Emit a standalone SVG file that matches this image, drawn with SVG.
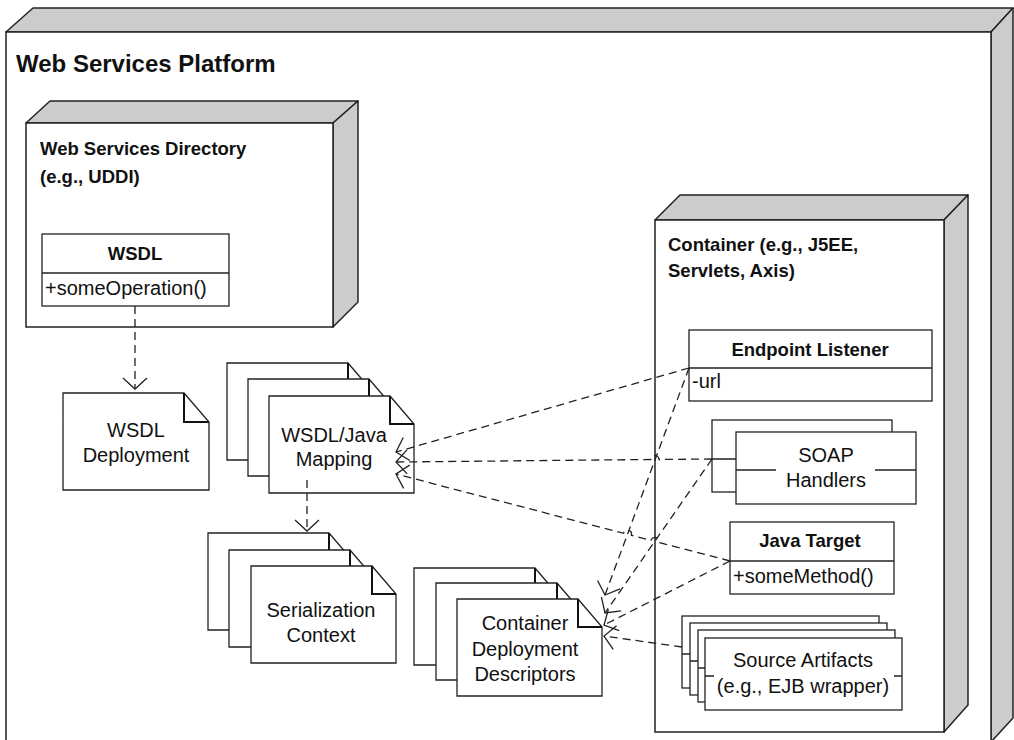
<svg xmlns="http://www.w3.org/2000/svg" width="1014" height="740" viewBox="0 0 1014 740">
<style>
.face{fill:#cccccc;stroke:#222;stroke-width:1.5;stroke-linejoin:round}
.front{fill:#fff;stroke:#222;stroke-width:1.5}
.box{fill:#fff;stroke:#222;stroke-width:1.3}
.ln{fill:none;stroke:#222;stroke-width:1.3}
.dash{fill:none;stroke:#222;stroke-width:1.3;stroke-dasharray:8 5}
.fold{fill:none;stroke:#111;stroke-width:2}
text{font-family:"Liberation Sans",Arial,sans-serif;fill:#111}
.h{font-weight:bold;font-size:18.5px}
.t{font-size:20px}
.title{font-weight:bold;font-size:24px}
.c{text-anchor:middle}
</style>
<defs>
<g id="note">
<path class="box" d="M0,0 H121 L145,28 V97 H0 Z"/>
<path class="fold" d="M121,0 V28 H145"/>
</g>
<g id="art">
<rect class="box" x="0" y="0" width="197" height="72"/>
<path class="ln" d="M0,38 H9 M189,38 H197"/>
</g>
<marker id="arr" viewBox="-1 -13 14 26" markerWidth="14" markerHeight="26" refX="11" refY="0" markerUnits="userSpaceOnUse" orient="auto">
<path d="M0,-12 L11,0 L0,12" fill="none" stroke="#222" stroke-width="1.3"/>
</marker>
</defs>

<g id="platform">
<polygon class="face" points="6,32 33,8 1013,8 991,32"/>
<polygon class="face" points="991,32 1013,8 1013,718 991,742"/>
<rect class="front" x="6" y="32" width="985" height="712"/>
<text class="title" x="16" y="72">Web Services Platform</text>
</g>

<g id="directory">
<polygon class="face" points="26,123 50,101 358,101 333,123"/>
<polygon class="face" points="333,123 358,101 358,302 333,327"/>
<rect class="front" x="26" y="123" width="307" height="204"/>
<text class="h" x="40" y="155">Web Services Directory</text>
<text class="h" x="40" y="183">(e.g., UDDI)</text>
</g>

<g id="wsdl">
<rect class="box" x="42" y="234" width="187" height="72"/>
<path class="ln" d="M42,273 H229"/>
<text class="h c" x="135" y="260">WSDL</text>
<text class="t" x="45" y="295">+someOperation()</text>
</g>

<g id="container">
<polygon class="face" points="655,220 680,195 968,195 944,220"/>
<polygon class="face" points="944,220 968,195 968,705 944,732"/>
<rect class="front" x="655" y="220" width="289" height="512"/>
<text class="h" x="668" y="251">Container (e.g., J5EE,</text>
<text class="h" x="668" y="277">Servlets, Axis)</text>
</g>

<g id="endpoint-listener">
<rect class="box" x="689" y="330" width="243" height="71"/>
<path class="ln" d="M689,368 H932"/>
<text class="h c" x="810" y="356">Endpoint Listener</text>
<text class="t" x="692" y="388">-url</text>
</g>

<g id="soap-handlers">
<rect class="box" x="712" y="420" width="180" height="72"/>
<rect class="box" x="736" y="432" width="180" height="72"/>
<path class="ln" d="M712,459 H736 M736,470 H776 M875,470 H916"/>
<text class="t c" x="826" y="462">SOAP</text>
<text class="t c" x="826" y="487">Handlers</text>
</g>

<g id="java-target">
<rect class="box" x="730" y="522" width="164" height="72"/>
<path class="ln" d="M730,561 H894"/>
<text class="h c" x="810" y="547">Java Target</text>
<text class="t" x="733" y="583">+someMethod()</text>
</g>

<g id="source-artifacts">
<use href="#art" transform="translate(682,616)"/>
<use href="#art" transform="translate(690,623)"/>
<use href="#art" transform="translate(698,630)"/>
<use href="#art" transform="translate(705,638)"/>
<text class="t c" x="803" y="667">Source Artifacts</text>
<text class="t c" x="803" y="693">(e.g., EJB wrapper)</text>
</g>

<g id="wsdl-deployment">
<path class="box" d="M63,393 H184 L209,422 V490 H63 Z"/>
<path class="fold" d="M184,393 V422 H209"/>
<text class="t c" x="136" y="437">WSDL</text>
<text class="t c" x="136" y="462">Deployment</text>
</g>

<g id="mapping">
<use href="#note" transform="translate(227,363)"/>
<use href="#note" transform="translate(248,379)"/>
<use href="#note" transform="translate(269,396)"/>
<text class="t c" x="334" y="442">WSDL/Java</text>
<text class="t c" x="334" y="466">Mapping</text>
</g>

<g id="serialization">
<use href="#note" transform="translate(208,533)"/>
<use href="#note" transform="translate(229,550)"/>
<use href="#note" transform="translate(251,566)"/>
<text class="t c" x="321" y="617">Serialization</text>
<text class="t c" x="321" y="642">Context</text>
</g>

<g id="descriptors">
<use href="#note" transform="translate(414,568)"/>
<use href="#note" transform="translate(436,583)"/>
<use href="#note" transform="translate(457,599)"/>
<text class="t c" x="525" y="630">Container</text>
<text class="t c" x="525" y="656">Deployment</text>
<text class="t c" x="525" y="681">Descriptors</text>
</g>

<g id="connectors">
<path class="dash" marker-end="url(#arr)" d="M135,306 V389"/>
<path class="dash" marker-end="url(#arr)" d="M307,480 V531"/>
<path class="dash" marker-end="url(#arr)" d="M689,368 L396,452"/>
<path class="dash" marker-end="url(#arr)" d="M712,459 L659,459.5 A4,4 0 0 0 651,459.5 L396,462"/>
<path class="dash" marker-end="url(#arr)" d="M730,561 L658.7,542.4 A4,4 0 0 0 650.9,540.4 L631.4,535.3 A4,4 0 0 0 623.6,533.3 L396,474"/>
<path class="dash" marker-end="url(#arr)" d="M689,368 L605,595"/>
<path class="dash" marker-end="url(#arr)" d="M712,459 L605,613"/>
<path class="dash" marker-end="url(#arr)" d="M730,561 L604,625"/>
<path class="dash" marker-end="url(#arr)" d="M682,647 L604,636"/>
</g>
</svg>
